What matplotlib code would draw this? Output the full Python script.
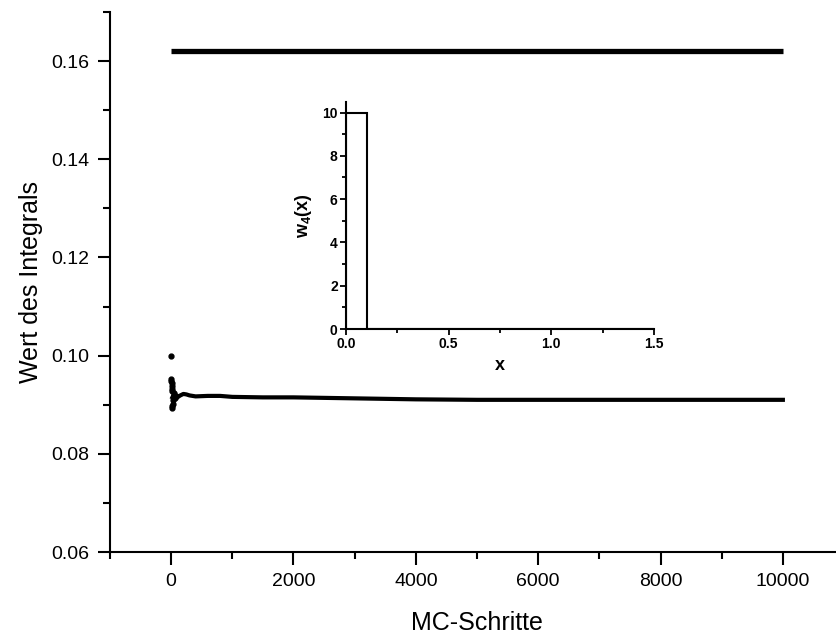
import matplotlib
matplotlib.use("Agg")
import matplotlib.pyplot as plt
from matplotlib.ticker import MultipleLocator

plt.rcParams['font.family'] = ['Liberation Sans', 'DejaVu Sans']
plt.rcParams['mathtext.fontset'] = 'custom'
plt.rcParams['mathtext.rm'] = 'Liberation Sans'
plt.rcParams['mathtext.bf'] = 'Liberation Sans:bold'

# upper curve: constant value over all MC steps
upper_steps = [0, 10000]
upper_values = [0.162, 0.162]

# lower curve, early scattered points
early_steps = [1, 3, 5, 8, 10, 12, 15, 18, 20, 25, 30, 40, 50, 60, 80]
early_values = [0.1000, 0.0952, 0.0948, 0.0944, 0.0939, 0.0933, 0.0928, 0.0893,
                0.0897, 0.0902, 0.0910, 0.0924, 0.0916, 0.0913, 0.0918]

# lower curve, converged part
trend_steps = [20, 40, 60, 100, 150, 200, 250, 300, 400, 600, 800, 1000, 1500,
               2000, 2500, 3000, 3500, 4000, 5000, 6000, 7000, 8000, 9000, 10000]
trend_values = [0.0915, 0.0920, 0.0914, 0.0915, 0.0919, 0.0922, 0.0921, 0.0919,
                0.0917, 0.0918, 0.0918, 0.0916, 0.0915, 0.0915, 0.0914, 0.0913,
                0.0912, 0.0911, 0.0910, 0.0910, 0.0910, 0.0910, 0.0910, 0.0910]

# inset: weight function w4(x)
w_edges = [0.0, 0.1, 1.5]
w_values = [10.0, 0.0]

fig = plt.figure(figsize=(8.37, 6.37), dpi=100)
ax = fig.add_axes([0.1314, 0.1334, 0.877, 0.8478])

ax.plot(upper_steps, upper_values, color='black', lw=3.8, solid_capstyle='butt')
ax.plot(trend_steps, trend_values, color='black', lw=3)
ax.plot(early_steps, early_values, color='black', ls='none', marker='o', ms=3.5)

ax.set_xlim(-1000, 11000)
ax.set_ylim(0.06, 0.17)
ax.xaxis.set_major_locator(MultipleLocator(2000))
ax.xaxis.set_minor_locator(MultipleLocator(1000))
ax.yaxis.set_major_locator(MultipleLocator(0.02))
ax.yaxis.set_minor_locator(MultipleLocator(0.01))
ax.yaxis.set_major_formatter(plt.FuncFormatter(lambda v, p: f'{v:.2f}'))
for side in ['top', 'right']:
    ax.spines[side].set_visible(False)
for side in ['left', 'bottom']:
    ax.spines[side].set_linewidth(1.5)
ax.tick_params(which='major', direction='out', length=9, width=1.5, labelsize=14, pad=6)
ax.tick_params(which='minor', direction='out', length=5, width=1.5)
ax.set_xlabel('MC-Schritte', fontsize=18, labelpad=15)
ax.set_ylabel('Wert des Integrals', fontsize=18, labelpad=6)

# inset
ins = fig.add_axes([0.4134, 0.4835, 0.368, 0.3568])
ins.stairs(w_values, w_edges, color='black', lw=1.5)
ins.set_xlim(0, 1.5)
ins.set_ylim(0, 10.5)
ins.xaxis.set_major_locator(MultipleLocator(0.5))
ins.xaxis.set_minor_locator(MultipleLocator(0.25))
ins.yaxis.set_major_locator(MultipleLocator(2))
ins.yaxis.set_minor_locator(MultipleLocator(1))
for side in ['top', 'right']:
    ins.spines[side].set_visible(False)
for side in ['left', 'bottom']:
    ins.spines[side].set_linewidth(1.5)
ins.tick_params(which='major', direction='out', length=4, width=1.3, labelsize=10, pad=2)
ins.tick_params(which='minor', direction='out', length=3, width=1.3)
for lbl in ins.get_xticklabels() + ins.get_yticklabels():
    lbl.set_fontweight('bold')
ins.set_xlabel('x', fontsize=13, fontweight='bold', labelpad=4)
ins.set_ylabel(r'$\mathbf{w_4(x)}$', fontsize=13, labelpad=6)

fig.savefig('out.png', dpi=100)
